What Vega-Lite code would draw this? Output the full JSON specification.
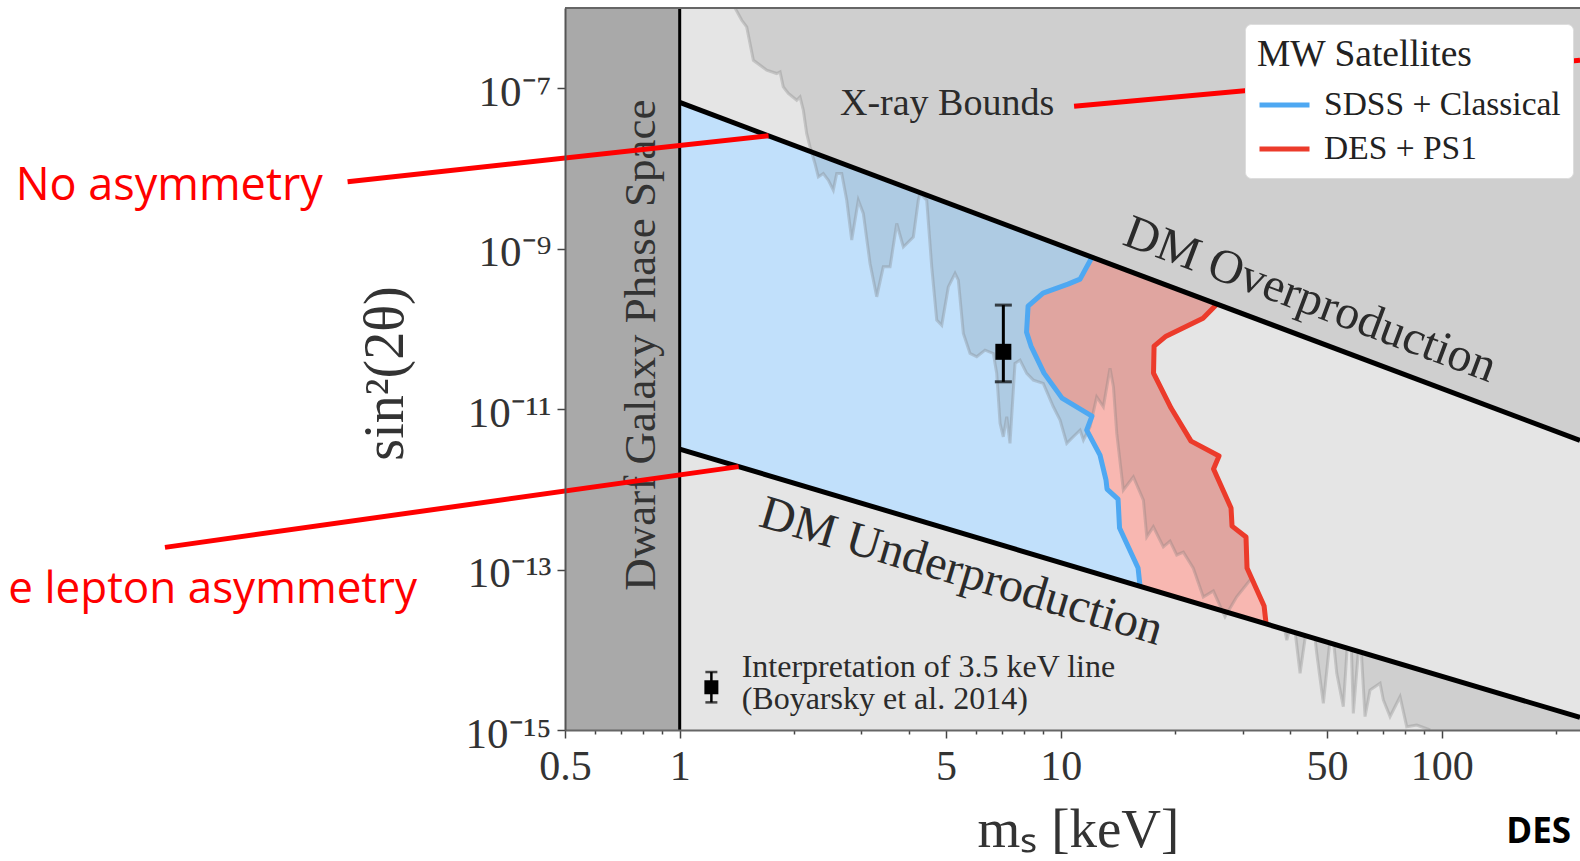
{
  "$schema": "https://vega.github.io/schema/vega-lite/v6.json",
  "width": 1015,
  "height": 722,
  "autosize": {"type": "none"},
  "padding": {"left": 565, "top": 8, "right": 0, "bottom": 131},
  "background": "white",
  "config": {"view": {"fill": "#e5e5e5", "stroke": null}, "font": "Liberation Serif"},
  "datasets": {
    "band": [{"m": 1, "lo": 3.18e-12, "hi": 6.65e-8}, {"m": 230.6, "lo": 1.434e-15, "hi": 4.08e-12}],
    "bluepoly": [
      {"s": 6.65e-8, "l": 1, "r": 1},
      {"s": 7.83e-10, "l": 1, "r": 12.08},
      {"s": 4.17e-10, "l": 1, "r": 11.24},
      {"s": 3.61e-10, "l": 1, "r": 10.45},
      {"s": 2.79e-10, "l": 1, "r": 8.985},
      {"s": 1.92e-10, "l": 1, "r": 8.21},
      {"s": 9.11e-11, "l": 1, "r": 8.135},
      {"s": 6.10e-11, "l": 1, "r": 8.356},
      {"s": 2.81e-11, "l": 1, "r": 9.04},
      {"s": 1.37e-11, "l": 1, "r": 10.08},
      {"s": 8.18e-12, "l": 1, "r": 12.08},
      {"s": 5.47e-12, "l": 1, "r": 11.70},
      {"s": 3.18e-12, "l": 1, "r": 12.44},
      {"s": 2.67e-12, "l": 1.130, "r": 12.68},
      {"s": 1.30e-12, "l": 1.876, "r": 13.15},
      {"s": 1.007e-12, "l": 2.251, "r": 13.23},
      {"s": 7.56e-13, "l": 2.757, "r": 14.14},
      {"s": 3.29e-13, "l": 4.963, "r": 14.27},
      {"s": 1.044e-13, "l": 11.16, "r": 15.96},
      {"s": 6.19e-14, "l": 16.15, "r": 16.15}
    ],
    "restpoly": [
      {"s": 2.04e-10, "l": 25.72, "r": 25.72},
      {"s": 1.36e-10, "l": 23.63, "r": 32.24},
      {"s": 8.12e-11, "l": 18.90, "r": 43.08},
      {"s": 6.10e-11, "l": 17.58, "r": 50.6},
      {"s": 2.81e-11, "l": 17.52, "r": 78.1},
      {"s": 1.03e-11, "l": 19.48, "r": 137.3},
      {"s": 4.08e-12, "l": 21.93, "r": 230.6},
      {"s": 3.99e-12, "l": 21.98, "r": 230.6},
      {"s": 2.60e-12, "l": 26.03, "r": 230.6},
      {"s": 1.79e-12, "l": 25.18, "r": 230.6},
      {"s": 5.84e-13, "l": 27.99, "r": 230.6},
      {"s": 3.48e-13, "l": 28.16, "r": 230.6},
      {"s": 2.54e-13, "l": 30.64, "r": 230.6},
      {"s": 1.044e-13, "l": 30.83, "r": 230.6},
      {"s": 3.51e-14, "l": 34.18, "r": 230.6},
      {"s": 2.105e-14, "l": 34.59, "r": 230.6},
      {"s": 1.434e-15, "l": 230.6, "r": 230.6}
    ],
    "xray": [
      {"i": 0, "m": 1.397, "s": 1e-6}, {"i": 1, "m": 1.455, "s": 7.03e-7}, {"i": 2, "m": 1.499, "s": 5.81e-7},
      {"i": 3, "m": 1.561, "s": 2.23e-7}, {"i": 4, "m": 1.692, "s": 1.675e-7}, {"i": 5, "m": 1.797, "s": 1.525e-7},
      {"i": 6, "m": 1.834, "s": 1.596e-7}, {"i": 7, "m": 1.870, "s": 1.038e-7}, {"i": 8, "m": 1.928, "s": 8.59e-8},
      {"i": 9, "m": 2.028, "s": 7.09e-8}, {"i": 10, "m": 2.069, "s": 7.79e-8}, {"i": 11, "m": 2.111, "s": 5.32e-8},
      {"i": 12, "m": 2.154, "s": 2.73e-8}, {"i": 13, "m": 2.198, "s": 1.86e-8}, {"i": 14, "m": 2.265, "s": 1.15e-8},
      {"i": 15, "m": 2.311, "s": 7.85e-9}, {"i": 16, "m": 2.382, "s": 8.65e-9}, {"i": 17, "m": 2.455, "s": 7.14e-9},
      {"i": 18, "m": 2.530, "s": 5.36e-9}, {"i": 19, "m": 2.583, "s": 8.65e-9}, {"i": 20, "m": 2.662, "s": 8.65e-9},
      {"i": 21, "m": 2.744, "s": 4.02e-9}, {"i": 22, "m": 2.828, "s": 1.28e-9}, {"i": 23, "m": 2.943, "s": 4.02e-9},
      {"i": 24, "m": 3.033, "s": 2.75e-9}, {"i": 25, "m": 3.159, "s": 6.54e-10}, {"i": 26, "m": 3.289, "s": 2.51e-10},
      {"i": 27, "m": 3.422, "s": 5.93e-10}, {"i": 28, "m": 3.565, "s": 5.93e-10}, {"i": 29, "m": 3.712, "s": 2.06e-9},
      {"i": 30, "m": 3.863, "s": 1.05e-9}, {"i": 31, "m": 4.104, "s": 1.40e-9}, {"i": 32, "m": 4.229, "s": 4.02e-9},
      {"i": 33, "m": 4.273, "s": 4.88e-9}, {"i": 34, "m": 4.449, "s": 4.02e-9}, {"i": 35, "m": 4.586, "s": 5.93e-10},
      {"i": 36, "m": 4.727, "s": 1.29e-10}, {"i": 37, "m": 4.872, "s": 1.11e-10}, {"i": 38, "m": 5.070, "s": 3.34e-10},
      {"i": 39, "m": 5.280, "s": 4.91e-10}, {"i": 40, "m": 5.386, "s": 4.05e-10}, {"i": 41, "m": 5.552, "s": 8.78e-11},
      {"i": 42, "m": 5.781, "s": 4.94e-11}, {"i": 43, "m": 6.020, "s": 4.49e-11}, {"i": 44, "m": 6.330, "s": 5.43e-11},
      {"i": 45, "m": 6.655, "s": 4.94e-11}, {"i": 46, "m": 6.792, "s": 2.79e-11}, {"i": 47, "m": 6.931, "s": 6.64e-12},
      {"i": 48, "m": 7.069, "s": 4.52e-12}, {"i": 49, "m": 7.217, "s": 8.02e-12}, {"i": 50, "m": 7.359, "s": 3.74e-12},
      {"i": 51, "m": 7.586, "s": 3.71e-11}, {"i": 52, "m": 7.819, "s": 4.08e-11}, {"i": 53, "m": 8.142, "s": 2.79e-11},
      {"i": 54, "m": 8.475, "s": 2.30e-11}, {"i": 55, "m": 9.00, "s": 2.09e-11}, {"i": 56, "m": 9.563, "s": 1.07e-11},
      {"i": 57, "m": 9.96, "s": 7.29e-12}, {"i": 58, "m": 10.37, "s": 3.74e-12}, {"i": 59, "m": 10.79, "s": 4.52e-12},
      {"i": 60, "m": 11.24, "s": 5.47e-12}, {"i": 61, "m": 11.47, "s": 4.11e-12}, {"i": 62, "m": 11.94, "s": 6.02e-12},
      {"i": 63, "m": 12.43, "s": 1.42e-11}, {"i": 64, "m": 12.94, "s": 1.07e-11}, {"i": 65, "m": 13.47, "s": 3.24e-11},
      {"i": 66, "m": 13.75, "s": 1.90e-11}, {"i": 67, "m": 14.03, "s": 4.98e-12}, {"i": 68, "m": 14.60, "s": 9.79e-13},
      {"i": 69, "m": 15.51, "s": 1.43e-12}, {"i": 70, "m": 16.48, "s": 7.35e-13}, {"i": 71, "m": 16.82, "s": 2.56e-13},
      {"i": 72, "m": 17.50, "s": 3.41e-13}, {"i": 73, "m": 18.59, "s": 1.92e-13}, {"i": 74, "m": 19.36, "s": 2.26e-13},
      {"i": 75, "m": 20.16, "s": 1.52e-13}, {"i": 76, "m": 20.98, "s": 1.65e-13}, {"i": 77, "m": 22.28, "s": 1.04e-13},
      {"i": 78, "m": 23.67, "s": 4.54e-14}, {"i": 79, "m": 25.15, "s": 5.40e-14}, {"i": 80, "m": 26.99, "s": 2.58e-14},
      {"i": 81, "m": 28.97, "s": 4.58e-14}, {"i": 82, "m": 31.40, "s": 7.40e-14}, {"i": 83, "m": 33.36, "s": 6.11e-14},
      {"i": 84, "m": 36.14, "s": 4.17e-14}, {"i": 85, "m": 37.63, "s": 3.44e-14}, {"i": 86, "m": 39.20, "s": 1.32e-14},
      {"i": 87, "m": 40.79, "s": 2.58e-14}, {"i": 88, "m": 42.48, "s": 5.09e-15}, {"i": 89, "m": 44.23, "s": 1.94e-14},
      {"i": 90, "m": 46.03, "s": 2.14e-14}, {"i": 91, "m": 46.98, "s": 9.04e-15}, {"i": 92, "m": 48.90, "s": 2.15e-15},
      {"i": 93, "m": 51.44, "s": 2.14e-14}, {"i": 94, "m": 53.02, "s": 5.09e-15}, {"i": 95, "m": 55.17, "s": 1.95e-15},
      {"i": 96, "m": 57.45, "s": 3.79e-14}, {"i": 97, "m": 58.61, "s": 1.61e-15}, {"i": 98, "m": 61.04, "s": 1.76e-14},
      {"i": 99, "m": 62.91, "s": 1.47e-15}, {"i": 100, "m": 64.84, "s": 3.15e-15}, {"i": 101, "m": 68.88, "s": 3.82e-15},
      {"i": 102, "m": 70.26, "s": 2.37e-15}, {"i": 103, "m": 73.17, "s": 1.47e-15}, {"i": 104, "m": 77.73, "s": 2.60e-15},
      {"i": 105, "m": 80.93, "s": 1.10e-15}, {"i": 106, "m": 86.0, "s": 1.15e-15}, {"i": 107, "m": 93.2, "s": 1e-15},
      {"i": 108, "m": 230.6, "s": 1e-15}
    ],
    "curves": [
      {"survey": "SDSS + Classical", "i": 0, "m": 12.08, "s": 7.83e-10},
      {"survey": "SDSS + Classical", "i": 1, "m": 11.24, "s": 4.17e-10},
      {"survey": "SDSS + Classical", "i": 2, "m": 10.45, "s": 3.61e-10},
      {"survey": "SDSS + Classical", "i": 3, "m": 8.985, "s": 2.79e-10},
      {"survey": "SDSS + Classical", "i": 4, "m": 8.21, "s": 1.92e-10},
      {"survey": "SDSS + Classical", "i": 5, "m": 8.135, "s": 9.11e-11},
      {"survey": "SDSS + Classical", "i": 6, "m": 8.356, "s": 6.10e-11},
      {"survey": "SDSS + Classical", "i": 7, "m": 9.04, "s": 2.81e-11},
      {"survey": "SDSS + Classical", "i": 8, "m": 10.08, "s": 1.37e-11},
      {"survey": "SDSS + Classical", "i": 9, "m": 12.08, "s": 8.18e-12},
      {"survey": "SDSS + Classical", "i": 10, "m": 11.70, "s": 5.47e-12},
      {"survey": "SDSS + Classical", "i": 11, "m": 12.68, "s": 2.67e-12},
      {"survey": "SDSS + Classical", "i": 12, "m": 13.15, "s": 1.30e-12},
      {"survey": "SDSS + Classical", "i": 13, "m": 13.23, "s": 1.007e-12},
      {"survey": "SDSS + Classical", "i": 14, "m": 14.14, "s": 7.56e-13},
      {"survey": "SDSS + Classical", "i": 15, "m": 14.27, "s": 3.29e-13},
      {"survey": "SDSS + Classical", "i": 16, "m": 15.96, "s": 1.044e-13},
      {"survey": "SDSS + Classical", "i": 17, "m": 16.15, "s": 6.19e-14},
      {"survey": "DES + PS1", "i": 0, "m": 25.72, "s": 2.04e-10},
      {"survey": "DES + PS1", "i": 1, "m": 23.63, "s": 1.36e-10},
      {"survey": "DES + PS1", "i": 2, "m": 18.90, "s": 8.12e-11},
      {"survey": "DES + PS1", "i": 3, "m": 17.58, "s": 6.10e-11},
      {"survey": "DES + PS1", "i": 4, "m": 17.52, "s": 2.81e-11},
      {"survey": "DES + PS1", "i": 5, "m": 19.48, "s": 1.03e-11},
      {"survey": "DES + PS1", "i": 6, "m": 21.98, "s": 3.99e-12},
      {"survey": "DES + PS1", "i": 7, "m": 26.03, "s": 2.60e-12},
      {"survey": "DES + PS1", "i": 8, "m": 25.18, "s": 1.79e-12},
      {"survey": "DES + PS1", "i": 9, "m": 27.99, "s": 5.84e-13},
      {"survey": "DES + PS1", "i": 10, "m": 28.16, "s": 3.48e-13},
      {"survey": "DES + PS1", "i": 11, "m": 30.64, "s": 2.54e-13},
      {"survey": "DES + PS1", "i": 12, "m": 30.83, "s": 1.044e-13},
      {"survey": "DES + PS1", "i": 13, "m": 34.18, "s": 3.51e-14},
      {"survey": "DES + PS1", "i": 14, "m": 34.59, "s": 2.105e-14}
    ],
    "dmlines": [
      {"line": "over", "m": 1, "s": 6.65e-8}, {"line": "over", "m": 230.6, "s": 4.08e-12},
      {"line": "under", "m": 1, "s": 3.18e-12}, {"line": "under", "m": 230.6, "s": 1.434e-15}
    ],
    "point": [{"m": 7.07, "s": 5.18e-11, "lo": 2.19e-11, "hi": 1.98e-10}],
    "keypoint": [{"m": 1.211, "s": 3.41e-15, "lo": 2.21e-15, "hi": 5.28e-15}],
    "annotlines": [
      {"m": 0.1344, "s": 6.82e-9, "m2": 1.711, "s2": 2.56e-8},
      {"m": 0.04457, "s": 1.89e-13, "m2": 1.428, "s2": 1.92e-12},
      {"m": 10.84, "s": 5.97e-8, "m2": 230.6, "s2": 2.24e-7}
    ]
  },
  "layer": [
    {
      "data": {"name": "band"},
      "mark": {"type": "area", "orient": "vertical", "color": "#f8b7b1"},
      "encoding": {
        "x": {"field": "m", "type": "quantitative", "scale": {"type": "log", "domain": [0.5, 230.6], "nice": false},
          "axis": {"title": "mₛ [keV]", "values": [0.5, 0.6, 0.7, 0.8, 0.9, 1, 2, 3, 4, 5, 6, 7, 8, 9, 10, 20, 30, 40, 50, 60, 70, 80, 90, 100, 200],
            "labelExpr": "indexof([0.5,1,5,10,50,100], datum.value) >= 0 ? format(datum.value, '~g') : ''",
            "tickSize": {"condition": {"test": "indexof([0.5,1,5,10,50,100], datum.value) >= 0", "value": 8}, "value": 4},
            "tickColor": "#444", "tickWidth": 1.5, "domainColor": "#666", "domainWidth": 2, "grid": false,
            "labelFont": "Liberation Serif", "labelFontSize": 42, "labelColor": "#333", "labelPadding": 8,
            "labelOverlap": false, "labelFlush": false, "zindex": 1,
            "titleFont": "Liberation Serif", "titleFontSize": 55, "titleFontWeight": "normal", "titleColor": "#333",
            "titleX": 513, "titleY": 116, "titleBaseline": "alphabetic", "titleAlign": "center"}},
        "y": {"field": "lo", "type": "quantitative", "scale": {"type": "log", "domain": [1e-15, 1e-6], "nice": false},
          "axis": {"title": "sin²(2θ)", "values": [1e-15, 1e-13, 1e-11, 1e-9, 1e-7],
            "labelExpr": "datum.value < 1e-14 ? '10⁻¹⁵' : datum.value < 1e-12 ? '10⁻¹³' : datum.value < 1e-10 ? '10⁻¹¹' : datum.value < 1e-8 ? '10⁻⁹' : '10⁻⁷'",
            "tickSize": 8, "tickColor": "#444", "tickWidth": 1.5, "domainColor": "#555", "domainWidth": 2, "grid": false,
            "labelFont": "Liberation Serif", "labelFontSize": 43, "labelColor": "#333", "labelPadding": 6, "labelOffset": 4,
            "labelOverlap": false, "labelFlush": false, "zindex": 1,
            "titleFont": "Liberation Serif", "titleFontSize": 56, "titleFontWeight": "normal", "titleColor": "#333",
            "titleX": -180, "titleY": 365, "titleAngle": 270, "titleBaseline": "middle", "titleAlign": "center"}},
        "y2": {"field": "hi"}
      }
    },
    {
      "data": {"name": "bluepoly"},
      "mark": {"type": "area", "orient": "horizontal", "color": "#c1e0fb"},
      "encoding": {
        "y": {"field": "s", "type": "quantitative", "scale": {"type": "log", "domain": [1e-15, 1e-6], "nice": false}},
        "x": {"field": "l", "type": "quantitative", "scale": {"type": "log", "domain": [0.5, 230.6], "nice": false}},
        "x2": {"field": "r"}
      }
    },
    {
      "data": {"name": "xray"},
      "mark": {"type": "area", "orient": "vertical", "color": "black", "opacity": 0.095},
      "encoding": {
        "x": {"field": "m", "type": "quantitative", "scale": {"type": "log", "domain": [0.5, 230.6], "nice": false}},
        "y": {"field": "s", "type": "quantitative", "scale": {"type": "log", "domain": [1e-15, 1e-6], "nice": false}},
        "y2": {"datum": 1e-6}
      }
    },
    {
      "data": {"name": "xray"},
      "transform": [{"filter": "datum.m < 100"}],
      "mark": {"type": "line", "color": "#7a7a7a", "opacity": 0.3, "strokeWidth": 3},
      "encoding": {
        "x": {"field": "m", "type": "quantitative", "scale": {"type": "log", "domain": [0.5, 230.6], "nice": false}},
        "y": {"field": "s", "type": "quantitative", "scale": {"type": "log", "domain": [1e-15, 1e-6], "nice": false}},
        "order": {"field": "i", "type": "quantitative"}
      }
    },
    {
      "data": {"name": "restpoly"},
      "mark": {"type": "area", "orient": "horizontal", "color": "#e5e5e5"},
      "encoding": {
        "y": {"field": "s", "type": "quantitative", "scale": {"type": "log", "domain": [1e-15, 1e-6], "nice": false}},
        "x": {"field": "l", "type": "quantitative", "scale": {"type": "log", "domain": [0.5, 230.6], "nice": false}},
        "x2": {"field": "r"}
      }
    },
    {
      "data": {"name": "curves"},
      "mark": {"type": "line", "strokeWidth": 5, "strokeJoin": "round"},
      "encoding": {
        "x": {"field": "m", "type": "quantitative", "scale": {"type": "log", "domain": [0.5, 230.6], "nice": false}},
        "y": {"field": "s", "type": "quantitative", "scale": {"type": "log", "domain": [1e-15, 1e-6], "nice": false}},
        "order": {"field": "i", "type": "quantitative"},
        "color": {"field": "survey", "type": "nominal",
          "scale": {"domain": ["SDSS + Classical", "DES + PS1"], "range": ["#4ea8f2", "#ec3b2b"]},
          "legend": {"title": "MW Satellites", "orient": "none", "legendX": 680, "legendY": 16, "zindex": 1,
            "symbolType": "stroke", "symbolStrokeWidth": 5, "symbolSize": 2500,
            "labelFont": "Liberation Serif", "labelFontSize": 33.5, "labelColor": "#222", "labelOffset": 12, "labelLimit": 400,
            "titleFont": "Liberation Serif", "titleFontSize": 37.5, "titleFontWeight": "normal", "titleColor": "#222", "titleLimit": 400, "titlePadding": 4,
            "fillColor": "white", "strokeColor": "#dddddd", "cornerRadius": 6, "padding": 12, "rowPadding": -3}}
      }
    },
    {
      "data": {"name": "dmlines"},
      "mark": {"type": "line", "color": "black", "strokeWidth": 5},
      "encoding": {
        "x": {"field": "m", "type": "quantitative", "scale": {"type": "log", "domain": [0.5, 230.6], "nice": false}},
        "y": {"field": "s", "type": "quantitative", "scale": {"type": "log", "domain": [1e-15, 1e-6], "nice": false}},
        "detail": {"field": "line", "type": "nominal"}
      }
    },
    {
      "data": {"values": [{}]},
      "mark": {"type": "rect", "color": "#a9a9a9"},
      "encoding": {
        "x": {"datum": 0.5, "type": "quantitative", "scale": {"type": "log", "domain": [0.5, 230.6], "nice": false}},
        "x2": {"datum": 1},
        "y": {"datum": 1e-15, "type": "quantitative", "scale": {"type": "log", "domain": [1e-15, 1e-6], "nice": false}},
        "y2": {"datum": 1e-6}
      }
    },
    {
      "data": {"values": [{}]},
      "mark": {"type": "rule", "color": "black", "strokeWidth": 3},
      "encoding": {
        "x": {"datum": 1, "type": "quantitative", "scale": {"type": "log", "domain": [0.5, 230.6], "nice": false}},
        "y": {"datum": 1e-15, "type": "quantitative", "scale": {"type": "log", "domain": [1e-15, 1e-6], "nice": false}},
        "y2": {"datum": 1e-6}
      }
    },
    {
      "data": {"values": [{}]},
      "mark": {"type": "rule", "color": "#666", "strokeWidth": 2},
      "encoding": {
        "x": {"datum": 0.5, "type": "quantitative", "scale": {"type": "log", "domain": [0.5, 230.6], "nice": false}},
        "x2": {"datum": 230.6},
        "y": {"datum": 1e-6, "type": "quantitative", "scale": {"type": "log", "domain": [1e-15, 1e-6], "nice": false}}
      }
    },
    {
      "data": {"values": [{"label": "DM Overproduction", "m": 45.11, "s": 2.28e-10}]},
      "mark": {"type": "text", "font": "Liberation Serif", "fontSize": 48, "color": "#2b2b2b", "angle": 20.6, "align": "center", "baseline": "middle"},
      "encoding": {
        "x": {"field": "m", "type": "quantitative", "scale": {"type": "log", "domain": [0.5, 230.6], "nice": false}},
        "y": {"field": "s", "type": "quantitative", "scale": {"type": "log", "domain": [1e-15, 1e-6], "nice": false}},
        "text": {"field": "label"}
      }
    },
    {
      "data": {"values": [{"label": "DM Underproduction", "m": 5.483, "s": 9.33e-14}]},
      "mark": {"type": "text", "font": "Liberation Serif", "fontSize": 48, "color": "#2b2b2b", "angle": 16.6, "align": "center", "baseline": "middle"},
      "encoding": {
        "x": {"field": "m", "type": "quantitative", "scale": {"type": "log", "domain": [0.5, 230.6], "nice": false}},
        "y": {"field": "s", "type": "quantitative", "scale": {"type": "log", "domain": [1e-15, 1e-6], "nice": false}},
        "text": {"field": "label"}
      }
    },
    {
      "data": {"values": [{"label": "Dwarf Galaxy Phase Space", "m": 0.7916, "s": 6.27e-11}]},
      "mark": {"type": "text", "font": "Liberation Serif", "fontSize": 45, "color": "#333", "angle": 270, "align": "center", "baseline": "middle"},
      "encoding": {
        "x": {"field": "m", "type": "quantitative", "scale": {"type": "log", "domain": [0.5, 230.6], "nice": false}},
        "y": {"field": "s", "type": "quantitative", "scale": {"type": "log", "domain": [1e-15, 1e-6], "nice": false}},
        "text": {"field": "label"}
      }
    },
    {
      "data": {"values": [{"label": "X-ray Bounds", "m": 2.634, "s": 4.61e-8}]},
      "mark": {"type": "text", "font": "Liberation Serif", "fontSize": 38, "color": "#2b2b2b", "align": "left", "baseline": "alphabetic"},
      "encoding": {
        "x": {"field": "m", "type": "quantitative", "scale": {"type": "log", "domain": [0.5, 230.6], "nice": false}},
        "y": {"field": "s", "type": "quantitative", "scale": {"type": "log", "domain": [1e-15, 1e-6], "nice": false}},
        "text": {"field": "label"}
      }
    },
    {
      "data": {"name": "point"},
      "mark": {"type": "rule", "color": "black", "strokeWidth": 3},
      "encoding": {
        "x": {"field": "m", "type": "quantitative", "scale": {"type": "log", "domain": [0.5, 230.6], "nice": false}},
        "y": {"field": "lo", "type": "quantitative", "scale": {"type": "log", "domain": [1e-15, 1e-6], "nice": false}},
        "y2": {"field": "hi"}
      }
    },
    {
      "data": {"name": "point"},
      "mark": {"type": "tick", "orient": "horizontal", "color": "black", "thickness": 3, "size": 17},
      "encoding": {
        "x": {"field": "m", "type": "quantitative", "scale": {"type": "log", "domain": [0.5, 230.6], "nice": false}},
        "y": {"field": "lo", "type": "quantitative", "scale": {"type": "log", "domain": [1e-15, 1e-6], "nice": false}}
      }
    },
    {
      "data": {"name": "point"},
      "mark": {"type": "tick", "orient": "horizontal", "color": "black", "thickness": 3, "size": 17},
      "encoding": {
        "x": {"field": "m", "type": "quantitative", "scale": {"type": "log", "domain": [0.5, 230.6], "nice": false}},
        "y": {"field": "hi", "type": "quantitative", "scale": {"type": "log", "domain": [1e-15, 1e-6], "nice": false}}
      }
    },
    {
      "data": {"name": "point"},
      "mark": {"type": "point", "shape": "square", "filled": true, "color": "black", "opacity": 1, "size": 256},
      "encoding": {
        "x": {"field": "m", "type": "quantitative", "scale": {"type": "log", "domain": [0.5, 230.6], "nice": false}},
        "y": {"field": "s", "type": "quantitative", "scale": {"type": "log", "domain": [1e-15, 1e-6], "nice": false}}
      }
    },
    {
      "data": {"name": "keypoint"},
      "mark": {"type": "rule", "color": "black", "strokeWidth": 2.5},
      "encoding": {
        "x": {"field": "m", "type": "quantitative", "scale": {"type": "log", "domain": [0.5, 230.6], "nice": false}},
        "y": {"field": "lo", "type": "quantitative", "scale": {"type": "log", "domain": [1e-15, 1e-6], "nice": false}},
        "y2": {"field": "hi"}
      }
    },
    {
      "data": {"name": "keypoint"},
      "mark": {"type": "tick", "orient": "horizontal", "color": "black", "thickness": 2.5, "size": 12},
      "encoding": {
        "x": {"field": "m", "type": "quantitative", "scale": {"type": "log", "domain": [0.5, 230.6], "nice": false}},
        "y": {"field": "lo", "type": "quantitative", "scale": {"type": "log", "domain": [1e-15, 1e-6], "nice": false}}
      }
    },
    {
      "data": {"name": "keypoint"},
      "mark": {"type": "tick", "orient": "horizontal", "color": "black", "thickness": 2.5, "size": 12},
      "encoding": {
        "x": {"field": "m", "type": "quantitative", "scale": {"type": "log", "domain": [0.5, 230.6], "nice": false}},
        "y": {"field": "hi", "type": "quantitative", "scale": {"type": "log", "domain": [1e-15, 1e-6], "nice": false}}
      }
    },
    {
      "data": {"name": "keypoint"},
      "mark": {"type": "point", "shape": "square", "filled": true, "color": "black", "opacity": 1, "size": 196},
      "encoding": {
        "x": {"field": "m", "type": "quantitative", "scale": {"type": "log", "domain": [0.5, 230.6], "nice": false}},
        "y": {"field": "s", "type": "quantitative", "scale": {"type": "log", "domain": [1e-15, 1e-6], "nice": false}}
      }
    },
    {
      "data": {"values": [
        {"label": "Interpretation of 3.5 keV line", "m": 1.454, "s": 6.10e-15},
        {"label": "(Boyarsky et al. 2014)", "m": 1.454, "s": 2.43e-15}
      ]},
      "mark": {"type": "text", "font": "Liberation Serif", "fontSize": 32, "color": "#2b2b2b", "align": "left", "baseline": "middle"},
      "encoding": {
        "x": {"field": "m", "type": "quantitative", "scale": {"type": "log", "domain": [0.5, 230.6], "nice": false}},
        "y": {"field": "s", "type": "quantitative", "scale": {"type": "log", "domain": [1e-15, 1e-6], "nice": false}},
        "text": {"field": "label"}
      }
    },
    {
      "data": {"name": "annotlines"},
      "mark": {"type": "rule", "color": "#ff0000", "strokeWidth": 5},
      "encoding": {
        "x": {"field": "m", "type": "quantitative", "scale": {"type": "log", "domain": [0.5, 230.6], "nice": false}},
        "y": {"field": "s", "type": "quantitative", "scale": {"type": "log", "domain": [1e-15, 1e-6], "nice": false}},
        "x2": {"field": "m2"},
        "y2": {"field": "s2"}
      }
    },
    {
      "data": {"values": [{"label": "No asymmetry", "m": 0.01808, "s": 4.02e-9}]},
      "mark": {"type": "text", "font": "Open Sans", "fontSize": 45, "color": "#ff0000", "align": "left", "baseline": "alphabetic"},
      "encoding": {
        "x": {"field": "m", "type": "quantitative", "scale": {"type": "log", "domain": [0.5, 230.6], "nice": false}},
        "y": {"field": "s", "type": "quantitative", "scale": {"type": "log", "domain": [1e-15, 1e-6], "nice": false}},
        "text": {"field": "label"}
      }
    },
    {
      "data": {"values": [{"label": "e lepton asymmetry", "m": 0.2045, "s": 3.82e-14}]},
      "mark": {"type": "text", "font": "Open Sans", "fontSize": 44, "color": "#ff0000", "align": "right", "baseline": "alphabetic"},
      "encoding": {
        "x": {"field": "m", "type": "quantitative", "scale": {"type": "log", "domain": [0.5, 230.6], "nice": false}},
        "y": {"field": "s", "type": "quantitative", "scale": {"type": "log", "domain": [1e-15, 1e-6], "nice": false}},
        "text": {"field": "label"}
      }
    },
    {
      "data": {"values": [{"label": "DES", "m": 218.5, "s": 3.91e-17}]},
      "mark": {"type": "text", "font": "Open Sans", "fontSize": 35, "fontWeight": "bold", "color": "black", "align": "right", "baseline": "alphabetic"},
      "encoding": {
        "x": {"field": "m", "type": "quantitative", "scale": {"type": "log", "domain": [0.5, 230.6], "nice": false}},
        "y": {"field": "s", "type": "quantitative", "scale": {"type": "log", "domain": [1e-15, 1e-6], "nice": false}},
        "text": {"field": "label"}
      }
    }
  ]
}
